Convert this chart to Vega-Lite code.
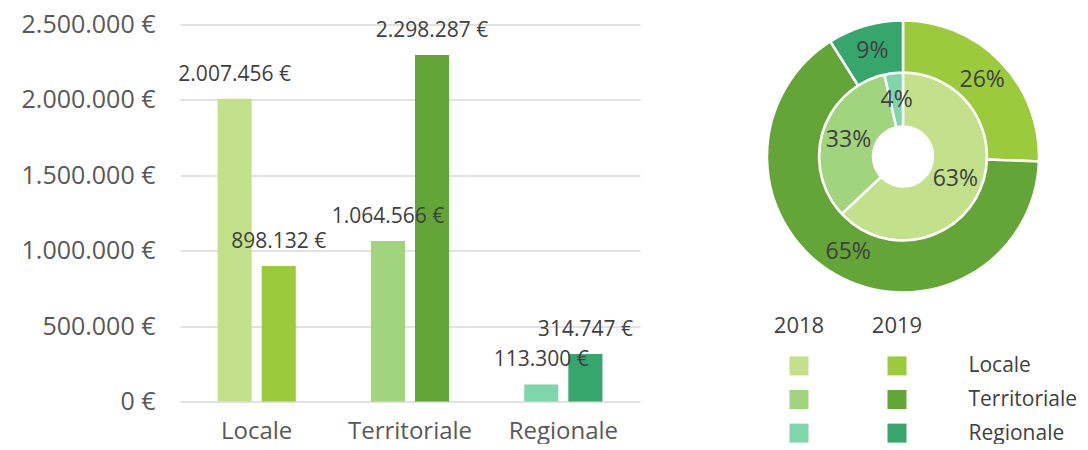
{
  "$schema": "https://vega.github.io/schema/vega-lite/v6.json",
  "padding": {"left": 17, "top": 12.5, "right": 0, "bottom": 0},
  "background": "white",
  "datasets": {
    "d": [
      {"cat": "Locale", "year": "2018", "key": "Locale 2018", "ord": 1, "value": 2007456, "lab": "2.007.456 €", "pct": "63%"},
      {"cat": "Locale", "year": "2019", "key": "Locale 2019", "ord": 1, "value": 898132, "lab": "898.132 €", "pct": "26%"},
      {"cat": "Territoriale", "year": "2018", "key": "Territoriale 2018", "ord": 2, "value": 1064566, "lab": "1.064.566 €", "pct": "33%"},
      {"cat": "Territoriale", "year": "2019", "key": "Territoriale 2019", "ord": 2, "value": 2298287, "lab": "2.298.287 €", "pct": "65%"},
      {"cat": "Regionale", "year": "2018", "key": "Regionale 2018", "ord": 3, "value": 113300, "lab": "113.300 €", "pct": "4%"},
      {"cat": "Regionale", "year": "2019", "key": "Regionale 2019", "ord": 3, "value": 314747, "lab": "314.747 €", "pct": "9%"}
    ]
  },
  "spacing": 110,
  "hconcat": [
    {
      "width": 460,
      "height": 377,
      "data": {"name": "d"},
      "encoding": {
        "x": {"field": "cat", "type": "nominal", "sort": ["Locale", "Territoriale", "Regionale"],
              "scale": {"paddingInner": 0.49, "paddingOuter": 0.245},
              "axis": {"title": null, "labelAngle": 0, "labelFontSize": 24, "labelColor": "#595959", "labelPadding": 18, "domain": false, "ticks": false}},
        "xOffset": {"field": "year", "type": "nominal", "scale": {"paddingInner": 0.227, "paddingOuter": 0}},
        "y": {"field": "value", "type": "quantitative", "scale": {"domain": [0, 2500000]},
              "axis": {"title": null, "format": "$,.0f", "values": [0, 500000, 1000000, 1500000, 2000000, 2500000],
                       "labelFontSize": 25, "labelColor": "#595959", "labelPadding": 25, "minExtent": 163, "maxExtent": 163,
                       "domain": false, "ticks": false, "gridColor": "#D9D9D9", "gridWidth": 1.5}}
      },
      "layer": [
        {
          "mark": {"type": "bar"},
          "encoding": {
            "color": {"field": "key", "type": "nominal", "legend": null,
                      "scale": {"domain": ["Locale 2018", "Locale 2019", "Territoriale 2018", "Territoriale 2019", "Regionale 2018", "Regionale 2019"],
                                "range": ["#C3E08A", "#9BCB3C", "#A0D47D", "#64A537", "#7ED6AA", "#37A66C"]}}
          }
        },
        {
          "mark": {"type": "text", "dy": -24, "baseline": "middle", "fontSize": 21, "color": "#404040"},
          "encoding": {"text": {"field": "lab", "type": "nominal"}}
        }
      ]
    },
    {
      "spacing": 17,
      "vconcat": [
        {
          "width": 306,
          "height": 264,
          "data": {"name": "d"},
          "layer": [
            {
              "transform": [{"filter": "datum.year === '2018'"}],
              "mark": {"type": "arc", "innerRadius": 30, "outerRadius": 84, "stroke": "white", "strokeWidth": 2.5},
              "encoding": {
                "theta": {"field": "value", "type": "quantitative", "stack": "normalize"},
                "order": {"field": "ord", "type": "quantitative"},
                "color": {"field": "key", "type": "nominal", "legend": null,
                          "scale": {"domain": ["Locale 2018", "Locale 2019", "Territoriale 2018", "Territoriale 2019", "Regionale 2018", "Regionale 2019"],
                                    "range": ["#C3E08A", "#9BCB3C", "#A0D47D", "#64A537", "#7ED6AA", "#37A66C"]}}
              }
            },
            {
              "transform": [{"filter": "datum.year === '2018'"}],
              "mark": {"type": "text", "radius": 57, "fontSize": 23, "color": "#404040"},
              "encoding": {
                "theta": {"field": "value", "type": "quantitative", "stack": "normalize"},
                "order": {"field": "ord", "type": "quantitative"},
                "text": {"field": "pct", "type": "nominal"}
              }
            },
            {
              "transform": [{"filter": "datum.year === '2019'"}],
              "mark": {"type": "arc", "innerRadius": 84, "outerRadius": 136, "stroke": "white", "strokeWidth": 2.5},
              "encoding": {
                "theta": {"field": "value", "type": "quantitative", "stack": "normalize"},
                "order": {"field": "ord", "type": "quantitative"},
                "color": {"field": "key", "type": "nominal", "legend": null,
                          "scale": {"domain": ["Locale 2018", "Locale 2019", "Territoriale 2018", "Territoriale 2019", "Regionale 2018", "Regionale 2019"],
                                    "range": ["#C3E08A", "#9BCB3C", "#A0D47D", "#64A537", "#7ED6AA", "#37A66C"]}}
              }
            },
            {
              "transform": [{"filter": "datum.year === '2019'"}],
              "mark": {"type": "text", "radius": 110, "fontSize": 23, "color": "#404040"},
              "encoding": {
                "theta": {"field": "value", "type": "quantitative", "stack": "normalize"},
                "order": {"field": "ord", "type": "quantitative"},
                "text": {"field": "pct", "type": "nominal"}
              }
            }
          ]
        },
        {
          "width": 196,
          "height": 84,
          "data": {"name": "d"},
          "mark": {"type": "square", "size": 361, "opacity": 1, "filled": true},
          "encoding": {
            "x": {"field": "year", "type": "nominal", "scale": {"type": "band", "paddingInner": 0, "paddingOuter": 0},
                  "axis": {"orient": "top", "title": null, "labelAngle": 0, "labelFontSize": 22, "labelColor": "#404040", "labelPadding": 20, "domain": false, "ticks": false, "grid": false}},
            "y": {"field": "cat", "type": "nominal", "sort": ["Locale", "Territoriale", "Regionale"], "scale": {"type": "point", "padding": 0.25},
                  "axis": {"orient": "right", "title": null, "labelFontSize": 21, "labelColor": "#404040", "labelPadding": 22, "labelAlign": "left", "domain": false, "ticks": false, "grid": false}},
            "color": {"field": "key", "type": "nominal", "legend": null,
                      "scale": {"domain": ["Locale 2018", "Locale 2019", "Territoriale 2018", "Territoriale 2019", "Regionale 2018", "Regionale 2019"],
                                "range": ["#C3E08A", "#9BCB3C", "#A0D47D", "#64A537", "#7ED6AA", "#37A66C"]}}
          }
        }
      ]
    }
  ],
  "config": {
    "font": "Open Sans",
    "view": {"stroke": null},
    "axis": {"labelFont": "Open Sans"},
    "locale": {"number": {"decimal": ",", "thousands": ".", "grouping": [3], "currency": ["", " €"]}}
  }
}
